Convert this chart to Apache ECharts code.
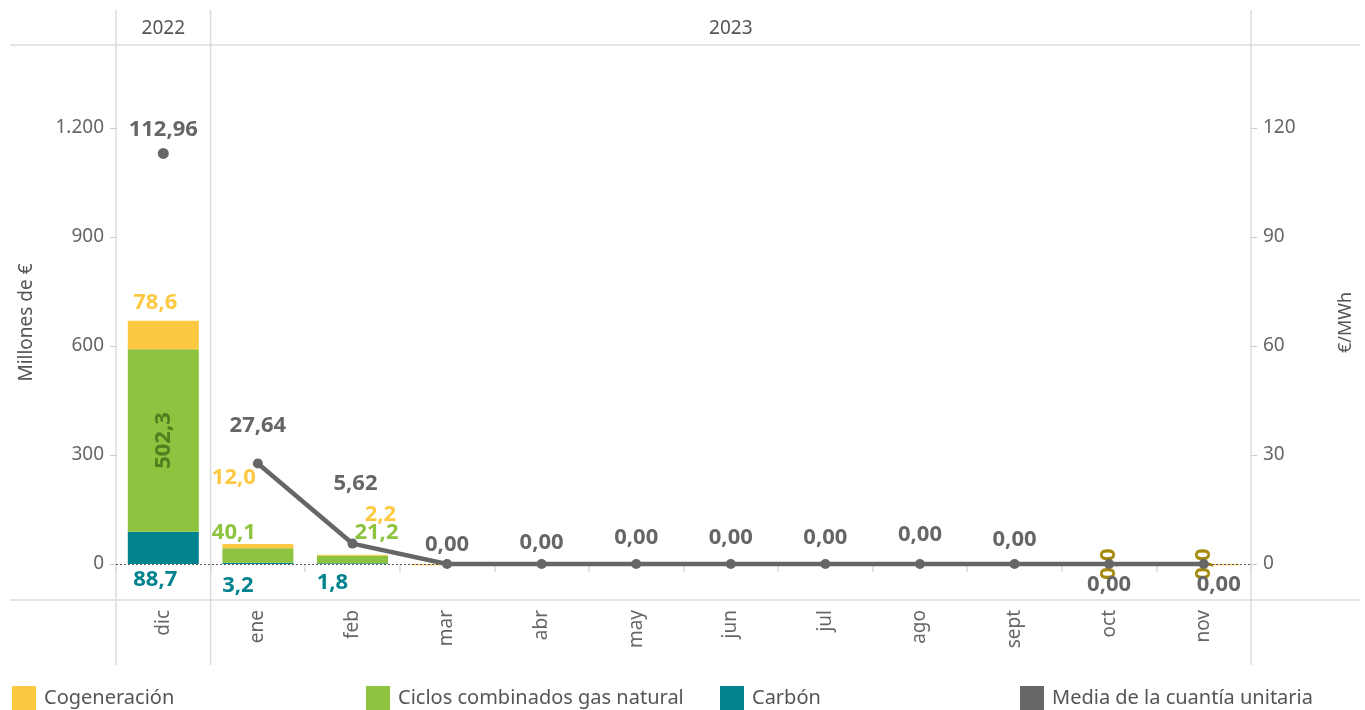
<!DOCTYPE html>
<html><head><meta charset="utf-8">
<script src="https://cdn.jsdelivr.net/npm/echarts@6/dist/echarts.min.js"></script>
<style>html,body{margin:0;padding:0;background:#fff}#c{width:1365px;height:710px}</style>
</head><body><div id="c"></div>
<script>
const categories = ['dic','ene','feb','mar','abr','may','jun','jul','ago','sept','oct','nov'];
const years = ['2022','2023'];
const yearSpan = [1, 11];
const cogeneracion = [78.6, 12.0, 2.2, -3.5, 0, 0, 0, 0, 0, 0, -3.5, -3.5];
const ciclos = [502.3, 40.1, 21.2, 0, 0, 0, 0, 0, 0, 0, 0, 0];
const carbon = [88.7, 3.2, 1.8, 0, 0, 0, 0, 0, 0, 0, 0, 0];
const media = [112.96, 27.64, 5.62, 0.00, 0.00, 0.00, 0.00, 0.00, 0.00, 0.00, 0.00, 0.00];
const leftTicks = [0, 300, 600, 900, 1200];
const rightTicks = [0, 30, 60, 90, 120];

const FONT = 'Noto Sans';
const C_COG = '#FDC942', C_CIC = '#8DC33F', C_CAR = '#00838F', C_MED = '#666666';
const GL = 116, GR = 1251, GT = 45, GB = 600;
const W = 1365, H = 710;
const step = (GR - GL) / categories.length;

const fmt1 = v => v.toFixed(1).replace('.', ',');
const fmt2 = v => v.toFixed(2).replace('.', ',');
const fmtK = v => String(v).replace(/\B(?=(\d{3})+(?!\d))/g, '.');

// label layout (not data): [position, dx, dy]
const cogLab = {0:['top',-8,-2], 1:['top',-24,-50], 2:['top',28,-24]};
const cicLab = {1:['top',-24,0], 2:['top',24,-7]};
const carLab = {0:['bottom',-8,0], 1:['bottom',-20,6], 2:['bottom',-20,3]};
const medLab = {0:['top',0,1], 1:['top',0,-14], 2:['top',3,-36], 3:['top',0,5], 4:['top',0,3],
  5:['top',0,-2], 6:['top',0,-2], 7:['top',0,-2], 8:['top',0,-5], 9:['top',0,0],
  10:['bottom',0,-3], 11:['bottom',15,-3]};

const labStyle = (color) => ({fontFamily: FONT, fontWeight: 'bold', fontSize: 22, color});

function barData(arr, lab, color) {
  return arr.map((v, i) => {
    const l = lab[i];
    if (!l) return {value: v, label: {show: false}};
    return {value: v, label: Object.assign({show: true, position: l[0], offset: [l[1], l[2]], distance: 5,
      formatter: p => fmt1(Math.abs(p.value))}, labStyle(color))};
  });
}

const cicData = barData(ciclos, cicLab, C_CIC);
cicData[0] = {value: ciclos[0], label: Object.assign({show: true, position: 'inside', rotate: 90,
  formatter: p => fmt1(p.value)}, labStyle('#4F7F1E'))};
[10, 11].forEach(i => {
  cicData[i] = {value: ciclos[i], label: Object.assign({show: true, position: 'inside', rotate: 90,
    formatter: p => fmt1(p.value)}, labStyle('#A68A0C'))};
});

const lineData = media.map((v, i) => {
  if (i === 0) return '-';
  const l = medLab[i];
  return {value: v, label: Object.assign({show: true, position: l[0], offset: [l[1], l[2]], distance: 8,
    formatter: p => fmt2(p.value)}, labStyle(C_MED))};
});
const dotData = media.map((v, i) => {
  if (i !== 0) return '-';
  const l = medLab[i];
  return {value: v, label: Object.assign({show: true, position: l[0], offset: [l[1], l[2]], distance: 8,
    formatter: p => fmt2(p.value)}, labStyle(C_MED))};
});

const chart = echarts.init(document.getElementById('c'), null, {renderer: 'canvas'});

const legendNames = ['Cogeneración', 'Ciclos combinados gas natural', 'Carbón', 'Media de la cuantía unitaria'];
const legendX = [12, 366, 720, 1020];
const legends = legendNames.map((n, i) => ({
  data: [{name: n, icon: 'rect'}], left: legendX[i], top: 686, padding: 0, itemWidth: 24, itemHeight: 24, itemGap: 10,
  selectedMode: false, textStyle: {fontFamily: FONT, fontSize: 20, color: '#555', padding: [0, 0, 0, 3]}
}));

const gline = (x1, y1, x2, y2) => ({type: 'line', silent: true, z: -1,
  shape: {x1, y1, x2, y2}, style: {stroke: '#dcdcdc', lineWidth: 1.5}});
const graphics = [
  gline(10, GT, W - 5, GT),
  gline(10, GB, W - 5, GB),
  gline(GL, 10, GL, 665),
  gline(GL + step * yearSpan[0], 10, GL + step * yearSpan[0], 665),
  gline(GR, 10, GR, 665)
];
let acc = 0;
years.forEach((y, i) => {
  const cx = GL + step * (acc + yearSpan[i] / 2);
  acc += yearSpan[i];
  graphics.push({type: 'text', silent: true, x: cx, y: 29,
    style: {text: y, fill: '#555', font: '19px "' + FONT + '"', align: 'center', verticalAlign: 'middle'}});
});

chart.setOption({
  animation: false,
  backgroundColor: '#fff',
  textStyle: {fontFamily: FONT},
  grid: {left: GL, right: W - GR, top: GT, bottom: H - GB, containLabel: false},
  legend: legends,
  graphic: graphics,
  xAxis: {
    type: 'category', data: categories,
    axisLine: {show: false},
    axisTick: {show: true, alignWithLabel: false, length: 8, lineStyle: {color: '#dcdcdc', width: 1.5}},
    axisLabel: {rotate: 90, margin: 10, fontFamily: FONT, fontSize: 19, color: '#666'},
    splitLine: {show: false}
  },
  yAxis: [{
    type: 'value', min: -99, max: 1428, position: 'left',
    name: 'Millones de €', nameLocation: 'middle', nameGap: 80, nameRotate: 90,
    nameTextStyle: {fontFamily: FONT, fontSize: 19, color: '#555'},
    axisLine: {show: false},
    axisTick: {show: true, length: 6, customValues: leftTicks, lineStyle: {color: '#ccc'}},
    axisLabel: {customValues: leftTicks, formatter: v => fmtK(v), fontFamily: FONT, fontSize: 19, color: '#666', margin: 12},
    splitLine: {show: false}
  }, {
    type: 'value', min: -9.9, max: 142.8, position: 'right',
    name: '€/MWh', nameLocation: 'middle', nameGap: 86, nameRotate: 90,
    nameTextStyle: {fontFamily: FONT, fontSize: 18, color: '#555'},
    axisLine: {show: false},
    axisTick: {show: true, length: 6, customValues: rightTicks, lineStyle: {color: '#ccc'}},
    axisLabel: {customValues: rightTicks, fontFamily: FONT, fontSize: 19, color: '#666', margin: 12},
    splitLine: {show: false}
  }],
  series: [
    {name: 'Carbón', type: 'bar', stack: 'm', barWidth: 71, itemStyle: {color: C_CAR},
     data: barData(carbon, carLab, C_CAR),
     markLine: {silent: true, symbol: 'none', label: {show: false},
       lineStyle: {color: '#555', type: [2, 2], width: 1}, data: [{yAxis: 0}]}},
    {name: 'Ciclos combinados gas natural', type: 'bar', stack: 'm', barWidth: 71, itemStyle: {color: C_CIC},
     data: cicData},
    {name: 'Cogeneración', type: 'bar', stack: 'm', barWidth: 71, itemStyle: {color: C_COG},
     data: barData(cogeneracion, cogLab, C_COG)},
    {name: 'Media de la cuantía unitaria', type: 'line', yAxisIndex: 1, data: lineData,
     symbol: 'circle', symbolSize: 10, lineStyle: {color: C_MED, width: 4.5}, itemStyle: {color: C_MED}, z: 5},
    {name: 'Media de la cuantía unitaria', type: 'line', yAxisIndex: 1, data: dotData,
     symbol: 'circle', symbolSize: 11, lineStyle: {color: C_MED, width: 4.5}, itemStyle: {color: C_MED}, z: 5}
  ]
});
</script></body></html>
